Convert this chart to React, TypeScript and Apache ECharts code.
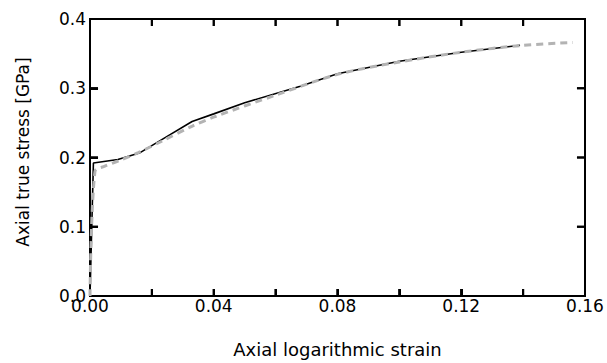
import React, { useEffect, useRef } from "react";
import * as echarts from "echarts";

const measuredStrain = [0, 0.0011, 0.009, 0.0162, 0.024, 0.033, 0.04, 0.05, 0.068, 0.08, 0.1, 0.12, 0.139];
const measuredStress = [0, 0.192, 0.197, 0.207, 0.228, 0.252, 0.263, 0.279, 0.303, 0.321, 0.339, 0.352, 0.362];

const fittedStrain = [0, 0.0016, 0.0048, 0.0092, 0.0156, 0.0232, 0.0329, 0.0404, 0.06, 0.08, 0.1, 0.12, 0.14, 0.156];
const fittedStress = [0, 0.18, 0.1875, 0.195, 0.207, 0.2235, 0.245, 0.259, 0.29, 0.32, 0.338, 0.352, 0.362, 0.366];

const xTickValues = [0.02, 0.04, 0.06, 0.08, 0.1, 0.12, 0.14];
const yTickValues = [0.1, 0.2, 0.3];

const xTitle = "Axial logarithmic strain";
const yTitle = "Axial true stress [GPa]";

const FONT = "DejaVu Sans";
const X_MIN = 0;
const X_MAX = 0.16;
const Y_MIN = 0;
const Y_MAX = 0.4;
const X_TICK_LEN = 0.01;
const Y_TICK_LEN = 0.0026;

export default function App() {
  const ref = useRef<HTMLDivElement>(null);
  useEffect(() => {
    if (!ref.current) return;
    const chart = echarts.init(ref.current, undefined, { renderer: "svg" });

    const tickData: any[] = [];
    xTickValues.forEach((v) => {
      tickData.push([v, Y_MIN], [v, Y_MIN + X_TICK_LEN], [NaN, NaN]);
      tickData.push([v, Y_MAX], [v, Y_MAX - X_TICK_LEN], [NaN, NaN]);
    });
    yTickValues.forEach((v) => {
      tickData.push([X_MIN, v], [X_MIN + Y_TICK_LEN, v], [NaN, NaN]);
      tickData.push([X_MAX, v], [X_MAX - Y_TICK_LEN, v], [NaN, NaN]);
    });

    const yTitleGraphic = {
      id: "ytitle",
      type: "text",
      x: 23,
      y: 152,
      rotation: Math.PI / 2,
      style: {
        text: yTitle,
        fontFamily: FONT,
        fontSize: 17,
        fill: "#000",
        align: "center",
        verticalAlign: "middle",
      },
    };

    chart.setOption({
      animation: false,
      grid: {
        left: 90,
        top: 19,
        right: 22,
        bottom: 66,
        containLabel: false,
        show: true,
        borderColor: "#000",
        borderWidth: 2,
        backgroundColor: "transparent",
      },
      xAxis: {
        type: "value",
        min: X_MIN,
        max: X_MAX,
        interval: 0.02,
        axisLine: { show: true, onZero: false, lineStyle: { color: "#000", width: 2 } },
        axisTick: { show: true, inside: true, length: 7, lineStyle: { color: "#000", width: 2 } },
        splitLine: { show: false },
        name: xTitle,
        nameLocation: "middle",
        nameGap: 44,
        nameTextStyle: { fontFamily: FONT, fontSize: 18, color: "#000" },
        axisLabel: {
          fontFamily: FONT,
          fontSize: 17,
          color: "#000",
          margin: 1,
          formatter: (v: number) => (Math.round(v * 100) % 4 === 0 ? v.toFixed(2) : ""),
        },
      },
      yAxis: {
        type: "value",
        min: Y_MIN,
        max: Y_MAX,
        interval: 0.1,
        axisLine: { show: true, onZero: false, lineStyle: { color: "#000", width: 2 } },
        axisTick: { show: true, inside: true, length: 8, lineStyle: { color: "#000", width: 2 } },
        splitLine: { show: false },
        axisLabel: {
          fontFamily: FONT,
          fontSize: 17,
          color: "#000",
          margin: 4,
          formatter: (v: number) => v.toFixed(1),
        },
      },
      graphic: [yTitleGraphic],
      series: [
        {
          type: "line",
          name: "ticks",
          data: tickData,
          connectNulls: false,
          showSymbol: false,
          symbol: "none",
          clip: false,
          lineStyle: { color: "#000", width: 2 },
          z: 5,
        },
        {
          type: "line",
          data: measuredStrain.map((x, i) => [x, measuredStress[i]]),
          showSymbol: false,
          symbol: "none",
          lineStyle: { color: "#000", width: 1.6, type: "solid" },
        },
        {
          type: "line",
          data: fittedStrain.map((x, i) => [x, fittedStress[i]]),
          showSymbol: false,
          symbol: "none",
          smooth: 0.3,
          lineStyle: { color: "#b3b3b3", width: 3, type: [7, 5] },
        },
      ],
    });

    try {
      const rects: any[] = [];
      const toPx = (p: number[]) =>
        chart.convertToPixel({ xAxisIndex: 0, yAxisIndex: 0 } as any, p) as unknown as number[];
      xTickValues.forEach((v, i) => {
        const b = toPx([v, Y_MIN]);
        const t = toPx([v, Y_MAX]);
        if (b && t) {
          rects.push({ id: "xb" + i, type: "rect", z: 10, shape: { x: b[0] - 1, y: b[1] - 7, width: 2, height: 7 }, style: { fill: "#000" } });
          rects.push({ id: "xt" + i, type: "rect", z: 10, shape: { x: t[0] - 1, y: t[1], width: 2, height: 7 }, style: { fill: "#000" } });
        }
      });
      yTickValues.forEach((v, i) => {
        const l = toPx([X_MIN, v]);
        const r = toPx([X_MAX, v]);
        if (l && r) {
          rects.push({ id: "yl" + i, type: "rect", z: 10, shape: { x: l[0], y: l[1] - 1, width: 8, height: 2 }, style: { fill: "#000" } });
          rects.push({ id: "yr" + i, type: "rect", z: 10, shape: { x: r[0] - 8, y: r[1] - 1, width: 8, height: 2 }, style: { fill: "#000" } });
        }
      });
      chart.setOption({ graphic: [yTitleGraphic, ...rects] });
    } catch (e) {
      // keep the chart even if pixel conversion fails
    }

    return () => chart.dispose();
  }, []);
  return (
    <div
      ref={ref}
      style={{ position: "absolute", left: 0, top: 0, width: 607, height: 363 }}
    />
  );
}
